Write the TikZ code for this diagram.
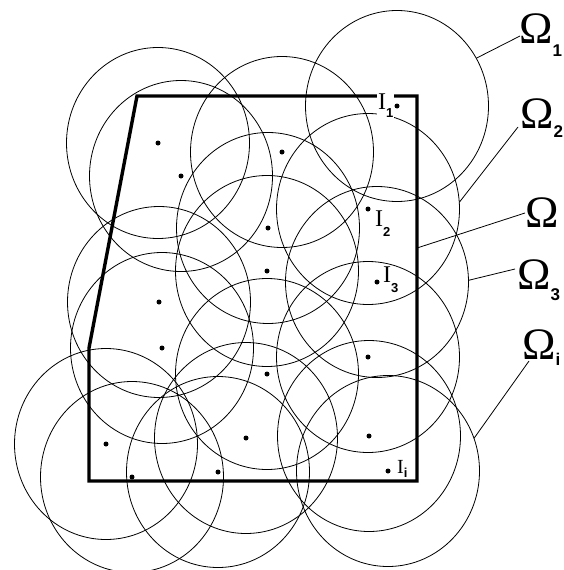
\documentclass[tikz,border=0pt]{standalone}
\usepackage{fontspec}
\setmainfont{Liberation Serif}
\newfontfamily\subfont{Liberation Sans}
\usetikzlibrary{calc}
\newcommand{\OmSz}{\fontsize{45}{47}\selectfont}
\newcommand{\OmSub}{\subfont\bfseries\fontsize{17}{18}\selectfont}
\newcommand{\ISz}{\fontsize{24}{26}\selectfont}
\newcommand{\ISub}{\subfont\bfseries\fontsize{13}{14}\selectfont}
\begin{document}
\begin{tikzpicture}[x=1pt,y=-1pt,
  ctr/.style={circle,fill=black,inner sep=0pt,minimum size=5pt},
  cover/.style={draw=black,line width=0.8pt},
  regionline/.style={draw=black,line width=3.4pt,line join=miter},
  leader/.style={draw=black,line width=0.8pt},
  lbl/.style={anchor=base west,inner sep=0pt}]
\useasboundingbox (0,0) rectangle (563,570);
\fill[white] (0,0) rectangle (563,570);
% centres
\node[ctr] (c1) at (158,143) {};
\node[ctr] (c2) at (181,176) {};
\node[ctr] (c3) at (282,152) {};
\node[ctr] (c4) at (397,106) {};
\node[ctr] (c5) at (368,209) {};
\node[ctr] (c6) at (268,228) {};
\node[ctr] (c7) at (267,271) {};
\node[ctr] (c8) at (377,282) {};
\node[ctr] (c9) at (159,302) {};
\node[ctr] (c10) at (162,348) {};
\node[ctr] (c11) at (267,374) {};
\node[ctr] (c12) at (368,357) {};
\node[ctr] (c13) at (106,444) {};
\node[ctr] (c14) at (132,477) {};
\node[ctr] (c15) at (218,472) {};
\node[ctr] (c16) at (246,438) {};
\node[ctr] (c17) at (369,436) {};
\node[ctr] (c18) at (388,471) {};
% covering circles
\foreach \c in {c1,c2,c3,c4,c5,c6,c7,c8,c9,c10,c11,c12,c13,c14,c15,c16,c17,c18}
  \draw[cover] (\c.center) ellipse [x radius=91.5pt, y radius=95.5pt];
% domain
\coordinate (p1) at (137,96);
\coordinate (p2) at (417,96);
\coordinate (p3) at (417,481);
\coordinate (p4) at (89,481);
\coordinate (p5) at (89,348);
\draw[regionline] (p1) -- (p2) -- (p3) -- (p4) -- (p5) -- cycle;
% point labels
\node[lbl,fill=white,inner sep=1pt] (i1) at (377,109) {\ISz I\raisebox{-8pt}{\ISub 1}};
\node[lbl] (i2) at (375,226) {\ISz I\raisebox{-10pt}{\ISub 2}};
\node[lbl] (i3) at (383,282) {\ISz I\raisebox{-10pt}{\ISub 3}};
\node[lbl] (ii) at (397,473) {\fontsize{20}{22}\selectfont I\raisebox{-4pt}{\ISub i}};
% set labels
\node[lbl] (o1) at (519,43) {\OmSz Ω\raisebox{-13pt}{\OmSub 1}};
\node[lbl] (o2) at (520,128) {\OmSz Ω\raisebox{-9pt}{\OmSub 2}};
\node[lbl] (o) at (525,227) {\OmSz Ω};
\node[lbl] (o3) at (517,289) {\OmSz Ω\raisebox{-11pt}{\OmSub 3}};
\node[lbl] (oi) at (522,359) {\OmSz Ω\raisebox{-6pt}{\OmSub i}};
% leaders
\coordinate (s1) at ($(c4.center)+(30:91.5pt and 95.5pt)$);
\coordinate (s2) at ($(c5.center)+(4:91.5pt and 95.5pt)$);
\coordinate (s) at (417,248);
\coordinate (s3) at ($(c8.center)+(1:91.5pt and 95.5pt)$);
\coordinate (si) at ($(c18.center)+(20:91.5pt and 95.5pt)$);
\draw[leader] (s1) -- ($(o1.base west)+(1,-7)$);
\draw[leader] (s2) -- ($(o2.base west)+(-2,-1)$);
\draw[leader] (s) -- ($(o.base west)+(0,-14)$);
\draw[leader] (s3) -- ($(o3.base west)+(-2,-20)$);
\draw[leader] (si) -- ($(oi.base west)+(7,2)$);
\end{tikzpicture}
\end{document}
